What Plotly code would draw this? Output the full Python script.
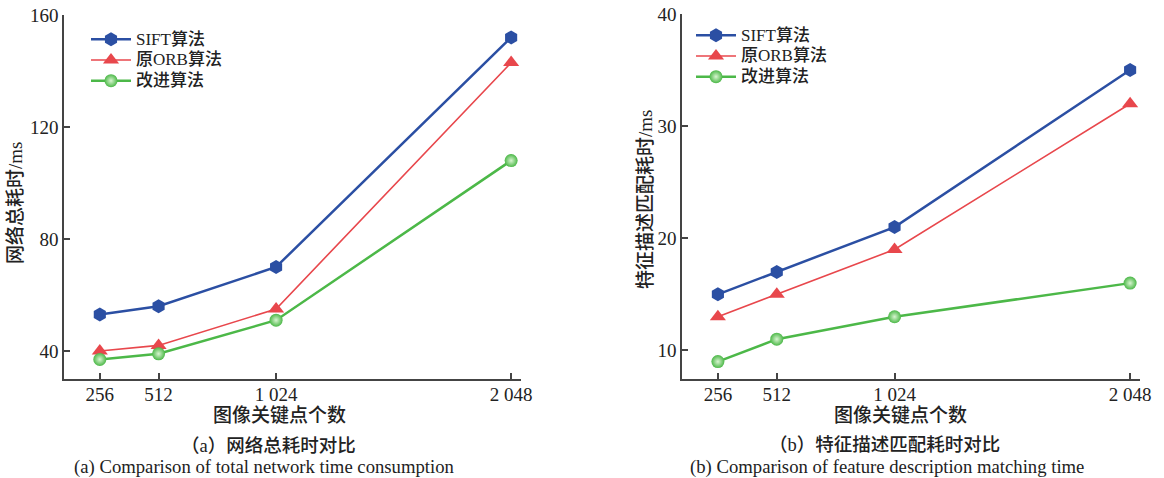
import plotly.graph_objects as go

x_vals = [256, 512, 1024, 2048]
x_ticktext = ["256", "512", "1 024", "2 048"]

left_sift = [53, 56, 70, 152]
left_orb = [40, 42, 55, 143]
left_imp = [37, 39, 51, 108]

right_sift = [15, 17, 21, 35]
right_orb = [13, 15, 19, 32]
right_imp = [9, 11, 13, 16]

names = ["SIFT算法", "原ORB算法", "改进算法"]
colors = ["#2b4fa3", "#e8474c", "#4cb848"]

FONT = "Liberation Serif, Noto Sans CJK SC, serif"
TXT = "#222222"

W, H = 1164, 478
def px(x):
    return x / W
def py(y):
    return 1 - y / H

def leg_name(s):
    return '<span style="font-size:17px">' + s + '</span>'

fig = go.Figure()

def add_series(xa, ya, leg, data):
    sift, orb, imp = data
    fig.add_trace(go.Scatter(x=x_vals, y=sift, name=leg_name(names[0]), mode="lines+markers",
                             line=dict(color=colors[0], width=2.5),
                             marker=dict(symbol="hexagon", size=14, color=colors[0]),
                             xaxis=xa, yaxis=ya, legend=leg))
    fig.add_trace(go.Scatter(x=x_vals, y=orb, name=leg_name(names[1]), mode="lines+markers",
                             line=dict(color=colors[1], width=1.6),
                             marker=dict(symbol="triangle-up", size=14, color=colors[1]),
                             xaxis=xa, yaxis=ya, legend=leg))
    fig.add_trace(go.Scatter(x=x_vals, y=imp, name=leg_name(names[2]), mode="lines+markers",
                             line=dict(color=colors[2], width=2.5),
                             marker=dict(symbol="circle", size=13, color=colors[2],
                                         gradient=dict(type="radial", color="#d8f5d0")),
                             xaxis=xa, yaxis=ya, legend=leg))

add_series("x", "y", "legend", (left_sift, left_orb, left_imp))
add_series("x2", "y2", "legend2", (right_sift, right_orb, right_imp))

x_end = 2091
xaxis_common = dict(
    range=[100, x_end], tickvals=x_vals + [x_end], ticktext=x_ticktext + [""],
    ticks="inside", ticklen=6, tickwidth=1.5, tickcolor="#444",
    showline=True, linecolor="#444", linewidth=1.5, showgrid=False, zeroline=False,
    tickfont=dict(family=FONT, size=19, color=TXT), automargin=False,
    ticklabelstandoff=-3, ticklabeloverflow="allow",
)
yaxis_common = dict(
    ticks="inside", ticklen=6, tickwidth=1.5, tickcolor="#444",
    showline=True, linecolor="#444", linewidth=1.5, showgrid=False, zeroline=False,
    tickfont=dict(family=FONT, size=19, color=TXT), automargin=False,
    ticklabeloverflow="allow",
)

leg_common = dict(xanchor="left", yanchor="top", bgcolor="rgba(0,0,0,0)",
                  font=dict(family=FONT, size=13.6, color=TXT, weight=500),
                  itemwidth=40, tracegroupgap=0)

fig.update_layout(
    width=W, height=H,
    margin=dict(l=0, r=0, t=0, b=0),
    paper_bgcolor="white", plot_bgcolor="white",
    font=dict(family=FONT, color=TXT),
    xaxis=dict(domain=[px(64), px(521)], anchor="y", **xaxis_common),
    yaxis=dict(domain=[py(379), py(15)], anchor="x", range=[30, 160],
               tickvals=[40, 80, 120, 160], **yaxis_common),
    xaxis2=dict(domain=[px(682), px(1140)], anchor="y2", **xaxis_common),
    yaxis2=dict(domain=[py(379), py(14)], anchor="x2", range=[7.45, 40],
                tickvals=[10, 20, 30, 40], **yaxis_common),
    legend=dict(x=px(86), y=py(24), **leg_common),
    legend2=dict(x=px(691), y=py(20), **leg_common),
)

annotations = [
    dict(x=279, y=415, text="图像关键点个数", size=19, weight=500),
    dict(x=900, y=415, text="图像关键点个数", size=19, weight=500),
    dict(x=268, y=445, text="（a）网络总耗时对比", size=18.5, weight=500),
    dict(x=884, y=445, text="（b）特征描述匹配耗时对比", size=18.5, weight=500),
    dict(x=264, y=467, text="(a) Comparison of total network time consumption", size=18.7, weight=400),
    dict(x=887, y=467, text="(b) Comparison of feature description matching time", size=18.7, weight=400),
]
for a in annotations:
    fig.add_annotation(x=px(a["x"]), y=py(a["y"]), xref="paper", yref="paper", text=a["text"],
                       showarrow=False, xanchor="center", yanchor="middle",
                       font=dict(family=FONT, size=a["size"], color=TXT, weight=a["weight"]))

fig.add_annotation(x=px(15), y=py(203), xref="paper", yref="paper",
                   text="网络总耗时/ms", textangle=-90, showarrow=False,
                   xanchor="center", yanchor="middle",
                   font=dict(family=FONT, size=19, color=TXT, weight=500))
fig.add_annotation(x=px(645), y=py(200), xref="paper", yref="paper",
                   text="特征描述匹配耗时/ms", textangle=-90, showarrow=False,
                   xanchor="center", yanchor="middle",
                   font=dict(family=FONT, size=19, color=TXT, weight=500))

fig.write_html("out.html", config={"displayModeBar": False},
               post_script="document.body.style.margin='0';document.body.style.overflow='hidden';")
